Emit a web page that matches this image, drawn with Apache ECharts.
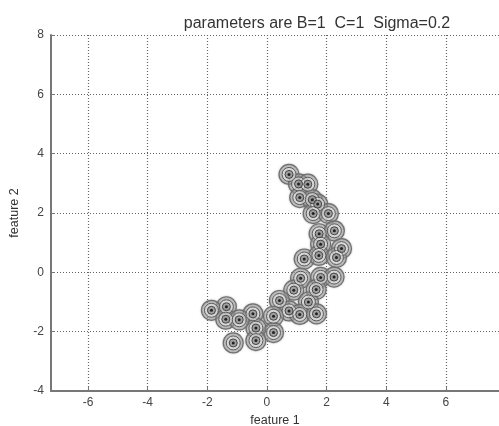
<!DOCTYPE html>
<html><head><meta charset="utf-8">
<script src="https://cdn.jsdelivr.net/npm/echarts@6/dist/echarts.min.js"></script>
<style>html,body{margin:0;padding:0;background:#fff}#c{width:499px;height:426px}</style>
</head><body><div id="c"></div>
<script>
const titleText = 'parameters are B=1  C=1  Sigma=0.2';
const xTicks = [-6, -4, -2, 0, 2, 4, 6];
const yTicks = [-4, -2, 0, 2, 4, 6, 8];
const feature1 = [0.74, 1.06, 1.37, 1.10, 1.52, 1.70, 1.55, 2.06, 1.75, 2.26, 1.80, 2.50, 1.25, 1.74, 2.33, 1.13, 1.80, 2.25, 0.90, 1.65, 0.42, 1.39, 0.74, 1.10, 1.66, 0.22, 0.22, -0.47, -0.37, -0.37, -1.36, -1.86, -1.38, -0.93, -1.13];
const feature2 = [3.30, 2.98, 2.97, 2.52, 2.45, 2.30, 1.98, 1.98, 1.30, 1.40, 0.95, 0.80, 0.45, 0.57, 0.50, -0.20, -0.17, -0.16, -0.60, -0.58, -0.95, -1.00, -1.30, -1.42, -1.40, -1.48, -2.03, -1.40, -1.88, -2.30, -1.16, -1.28, -1.58, -1.60, -2.38];

const pts = feature1.map((x, i) => [x, feature2[i]]);
const ring = (size, fill, border, bw, blur) => ({
  type: 'scatter', data: pts, symbol: 'circle', symbolSize: size, silent: true,
  itemStyle: { color: fill, borderColor: border, borderWidth: bw, opacity: 1,
    shadowBlur: blur || 0, shadowColor: 'rgba(110,110,110,0.5)' }
});
const chart = echarts.init(document.getElementById('c'));
const gridLine = { show: true, lineStyle: { color: '#666', type: [1, 2], width: 1.2 } };
const font = 'Liberation Sans';
chart.setOption({
  animation: false,
  title: { text: titleText, left: 312, top: 11, textAlign: 'center',
    textStyle: { fontFamily: font, fontWeight: 'normal', fontSize: 16, color: '#333' } },
  grid: { left: 51, top: 35, right: 0, bottom: 35, containLabel: false, outerBoundsMode: 'none' },
  xAxis: {
    type: 'value', min: -7.24, max: 7.78,
    name: 'feature 1', nameLocation: 'middle', nameGap: 22,
    nameTextStyle: { fontFamily: font, fontSize: 12.5, color: '#333' },
    axisLine: { show: true, onZero: false, lineStyle: { color: '#777', width: 2 } },
    axisTick: { show: true, inside: true, length: 4, customValues: xTicks, lineStyle: { color: '#777' } },
    axisLabel: { customValues: xTicks, fontFamily: font, fontSize: 12, color: '#444', margin: 6 },
    splitLine: Object.assign({ customValues: xTicks }, gridLine)
  },
  yAxis: {
    type: 'value', min: -4, max: 8, interval: 2,
    name: 'feature 2', nameLocation: 'middle', nameGap: 30,
    nameTextStyle: { fontFamily: font, fontSize: 12.5, color: '#333' },
    axisLine: { show: true, onZero: false, lineStyle: { color: '#777', width: 2 } },
    axisTick: { show: true, inside: true, length: 4, lineStyle: { color: '#777' } },
    axisLabel: { fontFamily: font, fontSize: 12, color: '#444', margin: 7 },
    splitLine: gridLine
  },
  series: [
    ring(20, 'rgba(165,165,165,0.5)', '#707070', 1.2, 2),
    ring(14, 'rgba(230,230,230,0.6)', '#5a5a5a', 1),
    ring(8, 'rgba(130,130,130,0.65)', '#444', 1),
    ring(3, '#222', '#222', 0)
  ]
});
</script></body></html>
